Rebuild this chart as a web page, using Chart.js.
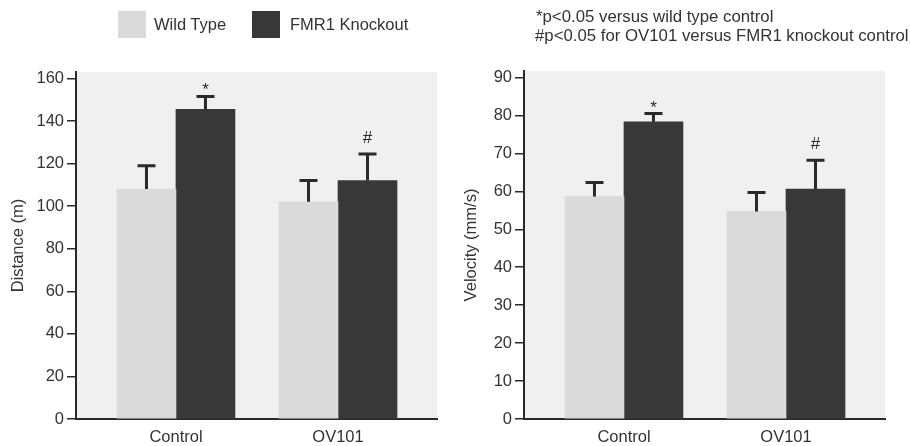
<!DOCTYPE html>
<html>
<head>
<meta charset="utf-8">
<script src="https://cdn.jsdelivr.net/npm/chart.js@4.4.1/dist/chart.umd.min.js"></script>
<style>
  body { margin: 0; background: #fff; font-family: "Liberation Sans", Arial, sans-serif; color: #333; }
  #wrap { position: relative; width: 910px; height: 446px; overflow: hidden; }
  .box { position: absolute; top: 0; width: 455px; height: 446px; }
  .swatch { position: absolute; top: 11px; width: 28px; height: 27px; }
  .key { position: absolute; top: 15px; font-size: 16.5px; line-height: 19px; white-space: nowrap; }
  .note { position: absolute; left: 536px; font-size: 16.8px; line-height: 19px; white-space: nowrap; }
</style>
</head>
<body>
<div id="wrap">
  <div class="box" style="left:0"><canvas id="distanceChart"></canvas></div>
  <div class="box" style="left:455px"><canvas id="velocityChart"></canvas></div>
  <div class="swatch" id="swWild" style="left:118px"></div>
  <div class="key" style="left:154px">Wild Type</div>
  <div class="swatch" id="swKo" style="left:252px"></div>
  <div class="key" style="left:290px">FMR1 Knockout</div>
  <div class="note" style="top:6.5px">*p&lt;0.05 versus wild type control</div>
  <div class="note" style="top:25.5px;left:535px">#p&lt;0.05 for OV101 versus FMR1 knockout control</div>
</div>
<script>
const groups = ['Control', 'OV101'];
const seriesNames = ['Wild Type', 'FMR1 Knockout'];

// distance travelled (m), mean and SEM
const distWild = [108, 102];
const distWildSem = [11, 10];
const distKo = [145.5, 112];
const distKoSem = [6, 12.5];

// velocity (mm/s), mean and SEM
const velWild = [58.6, 54.7];
const velWildSem = [3.7, 5];
const velKo = [78.3, 60.6];
const velKoSem = [2.2, 7.6];

// significance marks above the knockout bars
const koMarks = ['*', '#'];

const wildColor = '#dadada';
const koColor = '#383838';
const inkColor = '#2a2a2a';
const font = '"Liberation Sans", Arial, sans-serif';

document.getElementById('swWild').style.background = wildColor;
document.getElementById('swKo').style.background = koColor;

const plotBackground = {
  id: 'plotBackground',
  beforeDraw(chart) {
    const { ctx, chartArea: a } = chart;
    ctx.save();
    ctx.fillStyle = '#f0f0f0';
    ctx.fillRect(a.left, a.top, a.right - a.left, a.bottom - a.top);
    ctx.restore();
  }
};

const errorBars = {
  id: 'errorBars',
  afterDatasetsDraw(chart) {
    const { ctx } = chart;
    const yScale = chart.scales.y;
    ctx.save();
    ctx.strokeStyle = inkColor;
    ctx.fillStyle = inkColor;
    ctx.lineWidth = 3;
    chart.data.datasets.forEach((ds, i) => {
      const meta = chart.getDatasetMeta(i);
      meta.data.forEach((bar, j) => {
        const top = yScale.getPixelForValue(ds.data[j].y + ds.sem[j]);
        ctx.beginPath();
        ctx.moveTo(bar.x, bar.y);
        ctx.lineTo(bar.x, top);
        ctx.moveTo(bar.x - 9, top);
        ctx.lineTo(bar.x + 9, top);
        ctx.stroke();
        if (ds.marks && ds.marks[j]) {
          const m = ds.marks[j];
          ctx.font = '17px ' + font;
          ctx.textAlign = 'center';
          ctx.textBaseline = 'alphabetic';
          ctx.fillText(m, bar.x, m === '*' ? top - 1 : top - 11);
        }
      });
    });
    ctx.restore();
  }
};

function makeChart(id, wild, wildSem, ko, koSem, opts) {
  const toPoints = arr => arr.map((v, i) => ({ x: i, y: v }));
  return new Chart(document.getElementById(id), {
    type: 'bar',
    data: {
      datasets: [
        { label: seriesNames[0], data: toPoints(wild), sem: wildSem, backgroundColor: wildColor },
        { label: seriesNames[1], data: toPoints(ko), sem: koSem, marks: koMarks, backgroundColor: koColor }
      ]
    },
    options: {
      responsive: true,
      maintainAspectRatio: false,
      animation: false,
      barThickness: 59,
      layout: { padding: { top: opts.top, right: opts.right, left: 0, bottom: 0 } },
      plugins: { legend: { display: false }, tooltip: { enabled: false } },
      scales: {
        x: {
          type: 'linear',
          offset: false,
          min: -0.617,
          max: 1.611,
          grid: { display: false, drawTicks: false },
          border: { display: true, color: inkColor, width: 2 },
          afterBuildTicks(scale) { scale.ticks = groups.map((g, i) => ({ value: i })); },
          afterFit(scale) { scale.height = 27; },
          ticks: {
            color: '#333',
            padding: 9,
            font: { family: font, size: 16.5 },
            callback: v => groups[v]
          }
        },
        y: {
          min: 0,
          max: opts.max,
          afterFit(scale) { scale.width = opts.axisX; },
          grid: { drawOnChartArea: false, drawTicks: true, tickLength: 9, color: inkColor, lineWidth: 1.5 },
          border: { display: true, color: inkColor, width: 2 },
          title: {
            display: true,
            text: opts.title,
            color: '#333',
            padding: { top: opts.titlePad, bottom: 0 },
            font: { family: font, size: 16.5 }
          },
          ticks: {
            stepSize: opts.step,
            includeBounds: false,
            padding: 3,
            color: '#333',
            font: { family: font, size: 16.5 }
          }
        }
      }
    },
    plugins: [plotBackground, errorBars]
  });
}

makeChart('distanceChart', distWild, distWildSem, distKo, distKoSem,
  { top: 72, right: 18, max: 163, step: 20, axisX: 76, title: 'Distance (m)', titlePad: 9 });
makeChart('velocityChart', velWild, velWildSem, velKo, velKoSem,
  { top: 71, right: 25, max: 91.7, step: 10, axisX: 69, title: 'Velocity (mm/s)', titlePad: 7 });
</script>
</body>
</html>
